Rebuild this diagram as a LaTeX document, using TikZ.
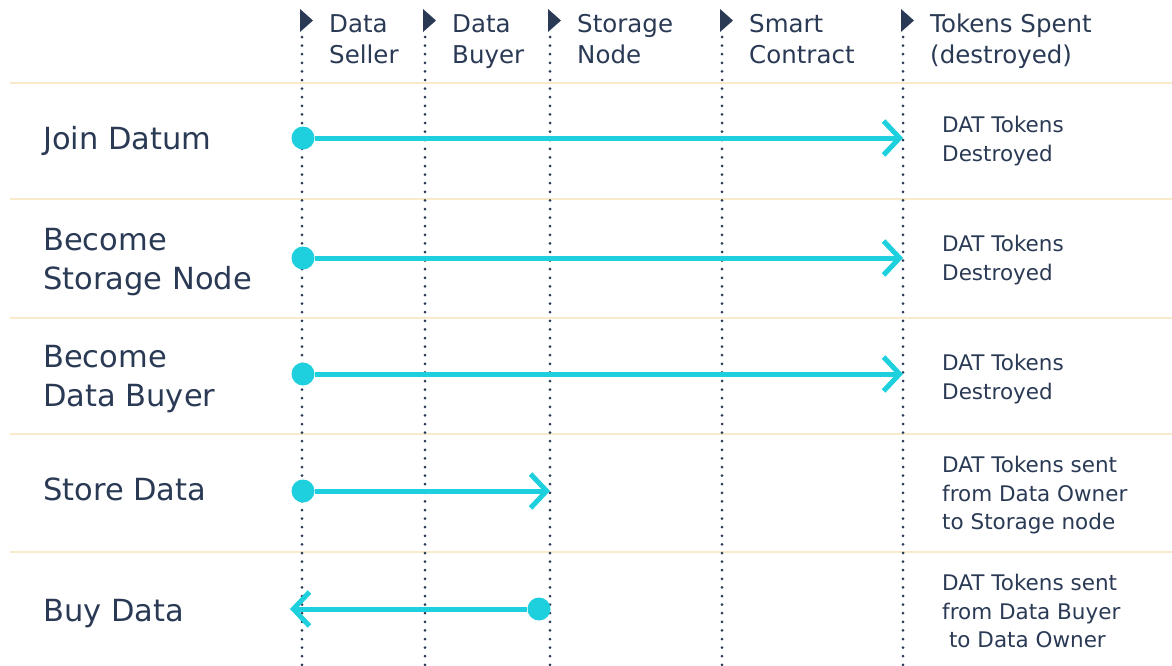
\documentclass[tikz,border=0pt]{standalone}
\usepackage{fontspec}
\setmainfont{DejaVu Sans}
\usetikzlibrary{arrows.meta}

\definecolor{navy}{HTML}{2A3A55}
\definecolor{flowcyan}{HTML}{1ED0DE}
\definecolor{rowrule}{HTML}{F8EACA}

\begin{document}
\begin{tikzpicture}[x=1pt,y=-1pt,
    lane/.style={navy, line width=3pt, dash pattern=on 0pt off 8.6pt, line cap=round},
    lanehead/.style={anchor=north west, inner sep=0pt, align=left, text=navy,
      font=\fontsize{24.5}{31}\selectfont},
    rowlabel/.style={anchor=north west, inner sep=0pt, align=left, text=navy,
      font=\fontsize{30.5}{39}\selectfont},
    note/.style={anchor=north west, inner sep=0pt, align=left, text=navy,
      font=\fontsize{21.5}{28.5}\selectfont},
    startdot/.style={circle, fill=flowcyan, minimum size=23pt, inner sep=0pt},
    flow/.style={flowcyan, line width=5pt,
      -{Straight Barb[length=16pt,width=34pt,line cap=butt]}},
    rowsep/.style={rowrule, line width=1.4pt}]
    \useasboundingbox (0,0) rectangle (1172,665);

    % lanes
    \foreach \name/\xx/\txt in {seller/302/{Data\\Seller}, buyer/425/{Data\\Buyer},
        storage/550/{Storage\\Node}, contract/722/{Smart\\Contract},
        spent/903/{Tokens Spent\\(destroyed)}} {
        \coordinate (\name-top) at (\xx,37);
        \coordinate (\name-bot) at (\xx,668);
        \fill[navy] (\xx-2,9) -- (\xx+11,20.5) -- (\xx-2,32) -- cycle;
        \node[lanehead] (\name-head) at (\xx+27,14) {\txt};
    }

    % row separators
    \foreach \yy [count=\i] in {83,199,318,434,552} {
        \coordinate (sep\i-l) at (10,\yy);
        \coordinate (sep\i-r) at (1172,\yy);
        \draw[rowsep] (sep\i-l) -- (sep\i-r);
    }

    \foreach \name in {seller,buyer,storage,contract,spent}
        \draw[lane] (\name-top) -- (\name-bot);

    % rows
    \node[rowlabel] (join) at (43,126) {Join Datum};
    \node[rowlabel] (becstore) at (43,228) {Become\\Storage Node};
    \node[rowlabel] (becbuyer) at (43,345) {Become\\Data Buyer};
    \node[rowlabel] (store) at (43,478) {Store Data};
    \node[rowlabel] (buy) at (43,599) {Buy Data};

    \node[note] (join-note) at (942,116) {DAT Tokens\\Destroyed};
    \node[note] (becstore-note) at (942,235) {DAT Tokens\\Destroyed};
    \node[note] (becbuyer-note) at (942,354) {DAT Tokens\\Destroyed};
    \node[note] (store-note) at (942,456) {DAT Tokens sent\\from Data Owner\\to Storage node};
    \node[note] (buy-note) at (942,574) {DAT Tokens sent\\from Data Buyer\\\ to Data Owner};

    \node[startdot] (join-dot) at (303,138) {};
    \node[startdot] (becstore-dot) at (303,258) {};
    \node[startdot] (becbuyer-dot) at (303,374) {};
    \node[startdot] (store-dot) at (303,491) {};
    \node[startdot] (buy-dot) at (539,609) {};
    \coordinate (buy-end) at (290,609);

    \draw[flow] (join-dot) -- (join-dot -| spent-bot);
    \draw[flow] (becstore-dot) -- (becstore-dot -| spent-bot);
    \draw[flow] (becbuyer-dot) -- (becbuyer-dot -| spent-bot);
    \draw[flow] (store-dot) -- (store-dot -| storage-bot);
    \draw[flow] (buy-dot) -- (buy-end);
\end{tikzpicture}
\end{document}
